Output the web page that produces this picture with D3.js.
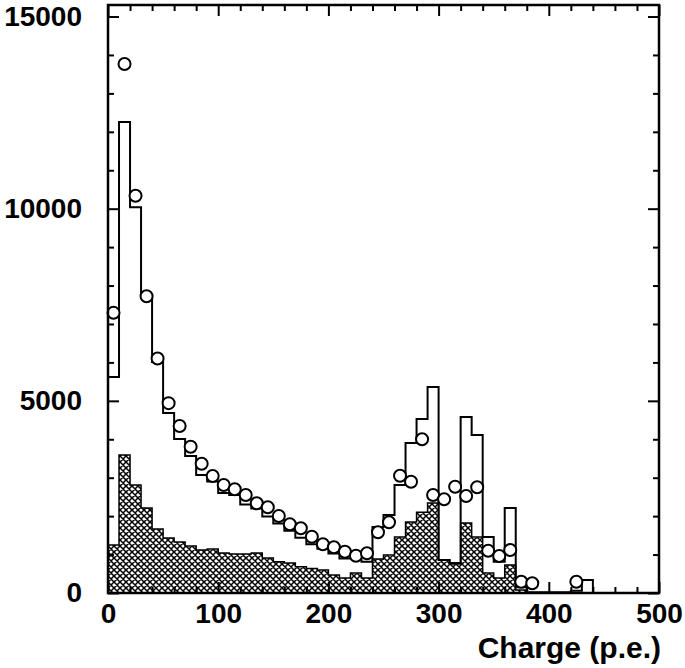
<!DOCTYPE html>
<html>
<head>
<meta charset="utf-8">
<script src="https://cdn.jsdelivr.net/npm/d3@7"></script>
<style>
body{margin:0;background:#fff;}
svg{display:block;}
.lbl{font-family:"Liberation Sans",Arial,sans-serif;font-weight:bold;}
</style>
</head>
<body>
<svg id="chart" width="685" height="668"></svg>
<script>
// bin edges: 10 p.e. wide, starting at 0
const binWidth=10;
const openHist=[5620,12255,10040,7700,6010,4684,4007,3565,3070,2900,2600,2550,2300,2200,1990,1810,1620,1440,1270,1150,1030,900,900,810,1717,2030,2810,3900,4530,5360,860,780,4580,4110,1460,810,2210,150,20,20,20,20,60,340];
const hatchHist=[1250,3590,2810,2210,1665,1430,1330,1220,1120,1145,1040,1015,1015,1040,910,810,780,680,640,600,470,390,520,390,885,990,1460,1850,2100,2340,860,755,1820,1460,520,390,730,80];
const pointX=[5,15,25,35,45,55,65,75,85,95,105,115,125,135,145,155,165,175,185,195,205,215,225,235,245,255,265,275,285,295,305,315,325,335,345,355,365,375,385,425];
const pointY=[7290,13765,10338,7720,6100,4940,4345,3807,3365,3044,2810,2700,2550,2334,2230,2003,1788,1683,1465,1267,1189,1075,970,1033,1579,1840,3052,2896,3999,2550,2438,2766,2524,2750,1100,963,1119,294,252,294];
const xMajor=[0,100,200,300,400,500];
const yMajor=[0,5000,10000,15000];
const xTitle="Charge (p.e.)";

const svg=d3.select("#chart");
const x=d3.scaleLinear().domain([0,500]).range([108,659]);
const y=d3.scaleLinear().domain([0,15300]).range([593,5]);

// cross hatch fill
const defs=svg.append("defs");
const pat=defs.append("pattern")
	.attr("id","xhatch")
	.attr("patternUnits","userSpaceOnUse")
	.attr("width",6).attr("height",6);
pat.append("rect").attr("width",6).attr("height",6).attr("fill","#fff");
pat.append("path")
	.attr("d","M-1,-1L7,7M-1,7L7,-1M-1,5L1,7M5,-1L7,1M5,7L7,5M-1,1L1,-1")
	.attr("stroke","#000").attr("stroke-width",1.5);

// step outline for a histogram
function stepPath(vals){
	const pts=[[0,0]];
	vals.forEach(function(v,i){
		pts.push([i*binWidth,v]);
		pts.push([(i+1)*binWidth,v]);
	});
	pts.push([vals.length*binWidth,0]);
	return d3.line().x(function(d){return x(d[0]);}).y(function(d){return y(d[1]);})(pts);
}

svg.append("path")
	.attr("d",stepPath(hatchHist)+"Z")
	.attr("fill","url(#xhatch)")
	.attr("stroke","#000")
	.attr("stroke-width",1.5);

svg.append("path")
	.attr("d",stepPath(openHist))
	.attr("fill","none")
	.attr("stroke","#000")
	.attr("stroke-width",2);

svg.append("g").selectAll("circle")
	.data(pointX)
	.enter()
	.append("circle")
	.attr("cx",function(d){return x(d);})
	.attr("cy",function(d,i){return y(pointY[i]);})
	.attr("r",6)
	.attr("fill","#fff")
	.attr("stroke","#000")
	.attr("stroke-width",2);

// frame with inward ticks on all sides
const xMinor=d3.range(0,501,20).filter(function(d){return d%100!==0;});
const yMinor=d3.range(0,15001,1000).filter(function(d){return d%5000!==0;});

function styleAxis(g){
	g.selectAll("path.domain").remove();
	g.selectAll("line").attr("stroke","#000").attr("stroke-width",2);
	g.selectAll("text").attr("class","lbl").attr("fill","#000").style("font-size","28px").attr("font-family",null);
}

const axBottom=svg.append("g").attr("transform","translate(0,593)");
axBottom.append("g").call(d3.axisBottom(x).tickValues(xMajor).tickSize(-11).tickPadding(10).tickFormat(d3.format("d"))).call(styleAxis);
axBottom.append("g").call(d3.axisBottom(x).tickValues(xMinor).tickSize(-6).tickFormat("")).call(styleAxis);

const axTop=svg.append("g").attr("transform","translate(0,5)");
axTop.append("g").call(d3.axisTop(x).tickValues(xMajor).tickSize(-11).tickFormat("")).call(styleAxis);
axTop.append("g").call(d3.axisTop(x).tickValues(xMinor).tickSize(-6).tickFormat("")).call(styleAxis);

const axLeft=svg.append("g").attr("transform","translate(108,0)");
axLeft.append("g").call(d3.axisLeft(y).tickValues(yMajor).tickSize(-11).tickPadding(26).tickFormat(d3.format("d"))).call(styleAxis);
axLeft.append("g").call(d3.axisLeft(y).tickValues(yMinor).tickSize(-6).tickFormat("")).call(styleAxis);

const axRight=svg.append("g").attr("transform","translate(659,0)");
axRight.append("g").call(d3.axisRight(y).tickValues(yMajor).tickSize(-11).tickFormat("")).call(styleAxis);
axRight.append("g").call(d3.axisRight(y).tickValues(yMinor).tickSize(-6).tickFormat("")).call(styleAxis);

svg.append("rect")
	.attr("x",x(0)).attr("y",y(15300))
	.attr("width",x(500)-x(0)).attr("height",y(0)-y(15300))
	.attr("fill","none").attr("stroke","#000").attr("stroke-width",2.5);

svg.append("text")
	.attr("class","lbl")
	.attr("x",661).attr("y",658)
	.attr("text-anchor","end")
	.style("font-size","30px")
	.text(xTitle);
</script>
</body>
</html>
